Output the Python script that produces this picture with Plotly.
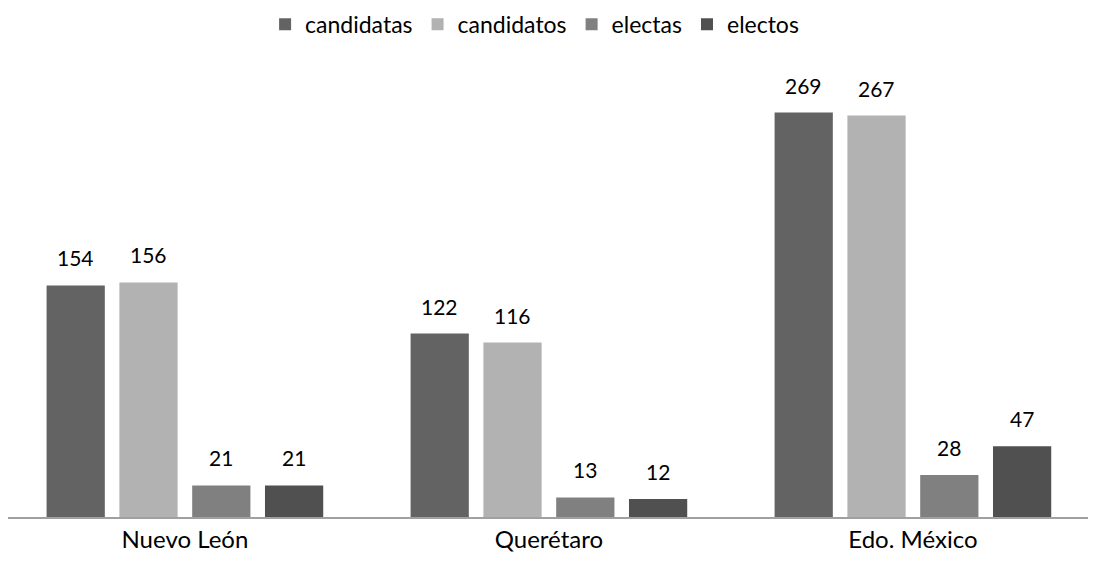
import plotly.graph_objects as go

estados = ["Nuevo León", "Querétaro", "Edo. México"]
candidatas = [154, 122, 269]
candidatos = [156, 116, 267]
electas = [21, 13, 28]
electos = [21, 12, 47]

series = [
    ("candidatas", candidatas, "#636363"),
    ("candidatos", candidatos, "#b2b2b2"),
    ("electas", electas, "#808080"),
    ("electos", electos, "#505050"),
]

# the page body adds an 8px margin, so the figure is a bit smaller
W, H = 1088, 557
margin = dict(l=0, r=0, t=58, b=48, autoexpand=False)
bargap = 0.2
x_range = [-0.486, 2.503]

fig = go.Figure()
for name, vals, color in series:
    fig.add_trace(
        go.Bar(
            x=estados,
            y=vals,
            name=name,
            marker_color=color,
            marker_line_width=0,
        )
    )

# value labels sit a bit above each bar, like the original
cat_px = W / (x_range[1] - x_range[0])
pitch = cat_px * (1 - bargap) / len(series)
for i, (name, vals, color) in enumerate(series):
    for est, v in zip(estados, vals):
        fig.add_annotation(
            x=est,
            y=v,
            text=str(v),
            showarrow=False,
            xshift=(i - (len(series) - 1) / 2) * pitch,
            yshift=13,
            yanchor="bottom",
            font=dict(size=21, color="#000000"),
        )

fig.update_layout(
    width=W,
    height=H,
    barmode="group",
    bargap=bargap,
    bargroupgap=0.2,
    plot_bgcolor="white",
    paper_bgcolor="white",
    font=dict(family="Lato, Noto Sans, sans-serif", size=21, color="#000000"),
    margin=margin,
    showlegend=True,
    legend=dict(
        orientation="h",
        x=0.484,
        xanchor="center",
        y=1.14,
        yanchor="top",
        font=dict(size=23),
        traceorder="normal",
    ),
)
fig.update_xaxes(
    range=x_range,
    showline=True,
    linecolor="#a0a0a0",
    linewidth=1.5,
    ticks="",
    tickfont=dict(size=24),
    automargin=False,
)
fig.update_yaxes(visible=False, range=[0, 300], showgrid=False)

fig.write_html("out.html")
